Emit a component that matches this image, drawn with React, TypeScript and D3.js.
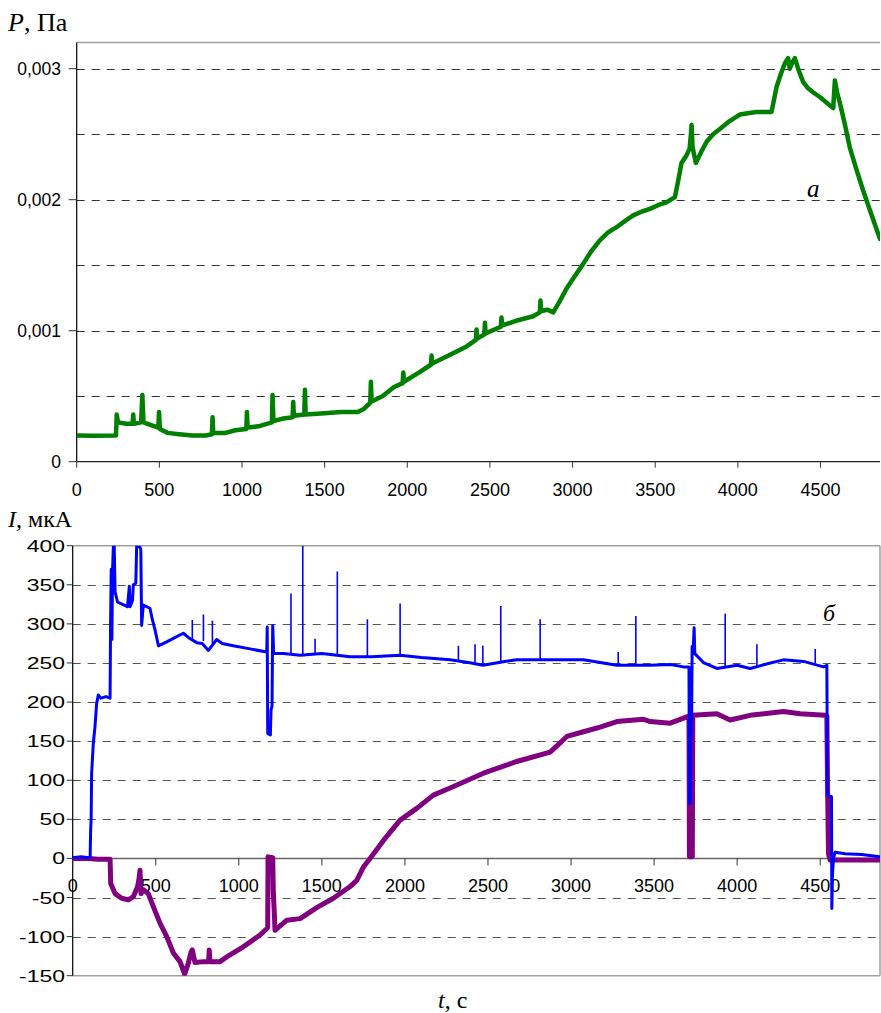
import React from "react";
import * as d3 from "d3";

// ---------- DATA ----------
// Pressure P (Pa) vs time t (s)
const pressure: [number, number][] = [
  [0, 0.0002], [100, 0.000198], [238, 0.0002], [242, 0.00036], [250, 0.0003], [300, 0.00029],
  [338, 0.00029], [342, 0.00036], [346, 0.00029], [390, 0.0003], [397, 0.00051], [404, 0.0003],
  [450, 0.00028], [494, 0.00026], [498, 0.00038], [503, 0.00025], [550, 0.00022], [620, 0.00021],
  [700, 0.0002], [780, 0.0002], [818, 0.00021], [822, 0.00034], [826, 0.00022], [900, 0.00022],
  [960, 0.00024], [1026, 0.00025], [1030, 0.00038], [1034, 0.00026], [1100, 0.00027], [1181, 0.0003],
  [1185, 0.00051], [1190, 0.00031], [1250, 0.00033], [1306, 0.00034], [1310, 0.000455], [1314, 0.00035],
  [1377, 0.00036], [1381, 0.00055], [1385, 0.00036], [1500, 0.00037], [1600, 0.00038], [1700, 0.00038],
  [1734, 0.0004], [1776, 0.00045], [1780, 0.00061], [1784, 0.00046], [1850, 0.0005], [1920, 0.00057],
  [1972, 0.0006], [1976, 0.00068], [1980, 0.00061], [2070, 0.00068], [2143, 0.00074], [2147, 0.00081],
  [2151, 0.00075], [2250, 0.00081], [2359, 0.00088], [2415, 0.00093], [2419, 0.00101], [2423, 0.00094],
  [2466, 0.00097], [2470, 0.00106], [2474, 0.00098], [2566, 0.00103], [2570, 0.0011], [2574, 0.00104],
  [2670, 0.00108], [2762, 0.00111], [2802, 0.00114], [2806, 0.00123], [2810, 0.00115], [2850, 0.00116],
  [2883, 0.00114], [2920, 0.00122], [2963, 0.00132], [3010, 0.00141], [3064, 0.00151], [3115, 0.00161],
  [3165, 0.00169], [3215, 0.00175], [3266, 0.00179], [3320, 0.00184], [3367, 0.00188], [3420, 0.00191],
  [3468, 0.00193], [3520, 0.00196], [3568, 0.00198], [3619, 0.00202], [3640, 0.00215], [3659, 0.00228],
  [3690, 0.00234], [3708, 0.00239], [3716, 0.0025], [3720, 0.00257], [3726, 0.0024], [3746, 0.00228],
  [3780, 0.00237], [3810, 0.00244], [3850, 0.0025], [3891, 0.00254], [3950, 0.0026], [4012, 0.00265],
  [4060, 0.00266], [4113, 0.00267], [4204, 0.00267], [4234, 0.00286], [4260, 0.00296], [4284, 0.00304],
  [4304, 0.00308], [4314, 0.003], [4330, 0.00305], [4345, 0.00308], [4370, 0.00298], [4395, 0.0029],
  [4425, 0.00285], [4455, 0.00282], [4500, 0.00278], [4556, 0.00272], [4577, 0.0027], [4587, 0.00291],
  [4600, 0.00282], [4617, 0.00274], [4650, 0.00256], [4677, 0.0024], [4720, 0.00222], [4758, 0.00207],
  [4810, 0.00188], [4860, 0.0017],
];

// Current I (uA), blue trace: main course
const currentBlue: [number, number][] = [
  [0, 1], [50, 2], [100, 1], [105, 2], [108, 36], [111, 50], [114, 109], [124, 147], [134, 168],
  [144, 198], [154, 209], [170, 205], [200, 207], [225, 205], [228, 300], [232, 370], [236, 280],
  [240, 370], [245, 400], [250, 400], [255, 341], [270, 328], [300, 325], [330, 322], [341, 348],
  [345, 322], [360, 330], [365, 350], [380, 352], [385, 400], [405, 398], [410, 395], [415, 298],
  [425, 324], [465, 320], [480, 305], [496, 292], [516, 272], [566, 277], [620, 283], [666, 288],
  [700, 282], [747, 276], [780, 275], [817, 266], [867, 280], [900, 275], [967, 272], [1068, 268],
  [1168, 264], [1171, 296], [1174, 160], [1190, 158], [1194, 190], [1200, 195], [1204, 298],
  [1210, 262], [1268, 262], [1370, 260], [1500, 262], [1670, 258], [1800, 258], [1971, 260],
  [2100, 257], [2272, 254], [2400, 250], [2470, 247], [2600, 252], [2673, 254], [2800, 254],
  [3075, 254], [3276, 247], [3476, 247], [3600, 248], [3677, 245], [3710, 245], [3713, 70],
  [3719, 72], [3721, 151], [3726, 173], [3729, 271], [3735, 265], [3741, 295], [3745, 262],
  [3800, 250], [3878, 243], [4000, 247], [4078, 243], [4200, 250], [4279, 254], [4400, 252],
  [4520, 245], [4540, 247], [4544, 81], [4568, 79], [4570, -64], [4574, -20], [4580, 0],
  [4590, 8], [4650, 6], [4750, 5], [4860, 2],
];

// Blue trace: narrow spikes [t, base, peak]
const blueSpikes: [number, number, number][] = [
  [720, 280, 305], [787, 278, 312], [841, 275, 304], [1314, 262, 339], [1385, 261, 400],
  [1459, 262, 281], [1593, 260, 367], [1774, 258, 306], [1971, 260, 326], [2322, 252, 272],
  [2422, 250, 274], [2469, 247, 272], [2577, 252, 323], [2814, 254, 306], [3284, 248, 264],
  [3390, 248, 310], [3928, 245, 313], [4119, 245, 274], [4470, 250, 268],
];

// Current I (uA), purple trace
const currentPurple: [number, number][] = [
  [0, 0], [100, 0], [150, -1], [225, -1], [229, -32], [255, -45], [295, -51], [335, -53],
  [365, -49], [391, -36], [400, -25], [405, -15], [411, -45], [425, -40], [455, -45], [486, -62],
  [526, -83], [566, -100], [606, -121], [646, -132], [674, -148], [696, -134], [712, -120],
  [720, -117], [736, -133], [787, -132], [818, -132], [822, -117], [826, -132], [887, -132],
  [927, -126], [1027, -113], [1128, -98], [1168, -90], [1174, -88], [1176, 2], [1204, 1],
  [1208, -45], [1212, -62], [1218, -92], [1228, -90], [1289, -79], [1369, -77], [1469, -63],
  [1569, -51], [1670, -36], [1710, -28], [1750, -11], [1790, 0], [1871, 23], [1971, 49],
  [2071, 64], [2171, 81], [2272, 90], [2473, 109], [2673, 124], [2874, 136], [2920, 145],
  [2975, 156], [3075, 162], [3175, 168], [3276, 175], [3436, 178], [3476, 175], [3597, 173],
  [3697, 181], [3710, 182], [3713, 2], [3730, 2], [3733, 183], [3878, 185], [3958, 177],
  [4078, 183], [4279, 188], [4379, 185], [4530, 183], [4540, 182], [4545, 80], [4550, 6],
  [4560, -2], [4860, -2],
];

// Ticks
const tTicks = [0, 500, 1000, 1500, 2000, 2500, 3000, 3500, 4000, 4500];
const pTicks = [0, 0.001, 0.002, 0.003];
const pGrid = [0.0005, 0.001, 0.0015, 0.002, 0.0025, 0.003];
const iTicks = [-150, -100, -50, 0, 50, 100, 150, 200, 250, 300, 350, 400];
const iGrid = [-100, -50, 50, 100, 150, 200, 250, 300, 350];

// ---------- LAYOUT ----------
const W = 881;
const H = 1013;
const sans = "Liberation Sans, Arial, sans-serif";
const serif = "Liberation Serif, Times New Roman, serif";

const xTop = d3.scaleLinear().domain([0, 4860]).range([76.7, 880]);
const yTop = d3.scaleLinear().domain([0, 0.0032]).range([461.7, 42.5]);
const xBot = d3.scaleLinear().domain([0, 4860]).range([72.7, 880]);
const yBot = d3.scaleLinear().domain([-150, 400]).range([975.7, 545.7]);

const fmtP = (v: number) => (v === 0 ? "0" : d3.format(".3f")(v).replace(".", ","));

export default function App() {
  const lineTop = d3.line<[number, number]>().x((d) => xTop(d[0])).y((d) => yTop(d[1]));
  const lineBot = d3.line<[number, number]>().x((d) => xBot(d[0])).y((d) => yBot(d[1]));
  const [tx0, tx1] = xTop.range();
  const [bx0, bx1] = xBot.range();
  const tyTop = yTop(0.0032);
  const tyBase = yTop(0);
  const byTop = yBot(400);
  const byBase = yBot(-150);
  const byZero = yBot(0);

  return (
    <svg width={W} height={H} style={{ position: "absolute", left: 0, top: 0, background: "#fff" }}>
      <defs>
        <clipPath id="clipTop">
          <rect x={tx0} y={tyTop} width={tx1 - tx0} height={tyBase - tyTop} />
        </clipPath>
        <clipPath id="clipBot">
          <rect x={bx0} y={byTop} width={bx1 - bx0} height={byBase - byTop} />
        </clipPath>
      </defs>
      <rect x={0} y={0} width={W} height={H} fill="#fff" />

      {/* ===== Top chart ===== */}
      {pGrid.map((v) => (
        <line key={"pg" + v} x1={tx0} x2={tx1} y1={Math.round(yTop(v)) + 0.5} y2={Math.round(yTop(v)) + 0.5} stroke="#333" strokeWidth={1} strokeDasharray="8,7" />
      ))}
      <line x1={tx0} x2={tx1} y1={tyTop} y2={tyTop} stroke="#a0a0a0" strokeWidth={1.5} />
      <line x1={tx0} x2={tx0} y1={tyTop} y2={tyBase} stroke="#000" strokeWidth={1.2} />
      <line x1={tx0} x2={tx1} y1={tyBase} y2={tyBase} stroke="#222" strokeWidth={1.2} />
      {pTicks.map((v) => (
        <g key={"pt" + v}>
          <line x1={tx0 - 8} x2={tx0} y1={yTop(v)} y2={yTop(v)} stroke="#333" strokeWidth={1} />
          <text x={61} y={yTop(v) + 6} textAnchor="end" fontFamily={sans} fontSize={17.5} fill="#000">
            {fmtP(v)}
          </text>
        </g>
      ))}
      {tTicks.map((v) => (
        <g key={"tt" + v}>
          <line x1={xTop(v)} x2={xTop(v)} y1={tyBase} y2={tyBase + 6} stroke="#333" strokeWidth={1} />
          <text x={xTop(v)} y={496} textAnchor="middle" fontFamily={sans} fontSize={18} fill="#000">
            {v}
          </text>
        </g>
      ))}
      <g clipPath="url(#clipTop)">
        <path d={lineTop(pressure) || ""} fill="none" stroke="#008000" strokeWidth={4.5} strokeLinejoin="round" strokeLinecap="round" />
      </g>
      <text x={8} y={31} fontFamily={serif} fontSize={26} fill="#000">
        <tspan fontStyle="italic">P</tspan>
        <tspan>, Па</tspan>
      </text>
      <text x={807} y={197} fontFamily={serif} fontSize={25} fontStyle="italic" fill="#000">а</text>

      {/* ===== Bottom chart ===== */}
      {iGrid.map((v) => (
        <line key={"ig" + v} x1={bx0} x2={bx1} y1={Math.round(yBot(v)) + 0.5} y2={Math.round(yBot(v)) + 0.5} stroke="#555" strokeWidth={1.2} strokeDasharray="8,7" />
      ))}
      <line x1={bx0} x2={bx1} y1={byTop} y2={byTop} stroke="#a0a0a0" strokeWidth={1.5} />
      <line x1={bx1} x2={bx1} y1={byTop} y2={byBase} stroke="#a0a0a0" strokeWidth={1.5} />
      <line x1={bx0} x2={bx1} y1={byBase} y2={byBase} stroke="#a0a0a0" strokeWidth={1.5} />
      <line x1={bx0} x2={bx1} y1={byZero} y2={byZero} stroke="#666" strokeWidth={1.5} />
      <line x1={bx0} x2={bx0} y1={byTop} y2={byBase} stroke="#000" strokeWidth={1.2} />
      {iTicks.map((v) => (
        <g key={"it" + v}>
          <line x1={bx0 - 6} x2={bx0} y1={yBot(v)} y2={yBot(v)} stroke="#333" strokeWidth={1} />
          <text
            transform={`translate(65,${yBot(v) + 6}) scale(1.35,1)`}
            textAnchor="end"
            fontFamily={sans}
            fontSize={17}
            fill="#000"
          >
            {v}
          </text>
        </g>
      ))}
      {tTicks.map((v) => (
        <g key={"bt" + v}>
          <line x1={xBot(v)} x2={xBot(v)} y1={byZero} y2={byZero + 7} stroke="#333" strokeWidth={1} />
          <text x={xBot(v)} y={892} textAnchor="middle" fontFamily={sans} fontSize={18} fill="#000">
            {v}
          </text>
        </g>
      ))}
      <g clipPath="url(#clipBot)">
        <path d={lineBot(currentPurple) || ""} fill="none" stroke="#800080" strokeWidth={5} strokeLinejoin="round" />
        <path d={lineBot(currentBlue) || ""} fill="none" stroke="#0000ff" strokeWidth={3} strokeLinejoin="round" />
        {blueSpikes.map((s) => (
          <line key={"bs" + s[0]} x1={xBot(s[0])} x2={xBot(s[0])} y1={yBot(s[1])} y2={yBot(s[2])} stroke="#0000ff" strokeWidth={1.6} />
        ))}
      </g>
      <text x={8} y={527} fontFamily={serif} fontSize={24} fill="#000">
        <tspan fontStyle="italic">I</tspan>
        <tspan>, мкА</tspan>
      </text>
      <text x={823} y={621} fontFamily={serif} fontSize={24} fontStyle="italic" fill="#000">б</text>
      <text x={438} y={1008} fontFamily={serif} fontSize={24} fill="#000">
        <tspan fontStyle="italic">t</tspan>
        <tspan>, с</tspan>
      </text>
    </svg>
  );
}
